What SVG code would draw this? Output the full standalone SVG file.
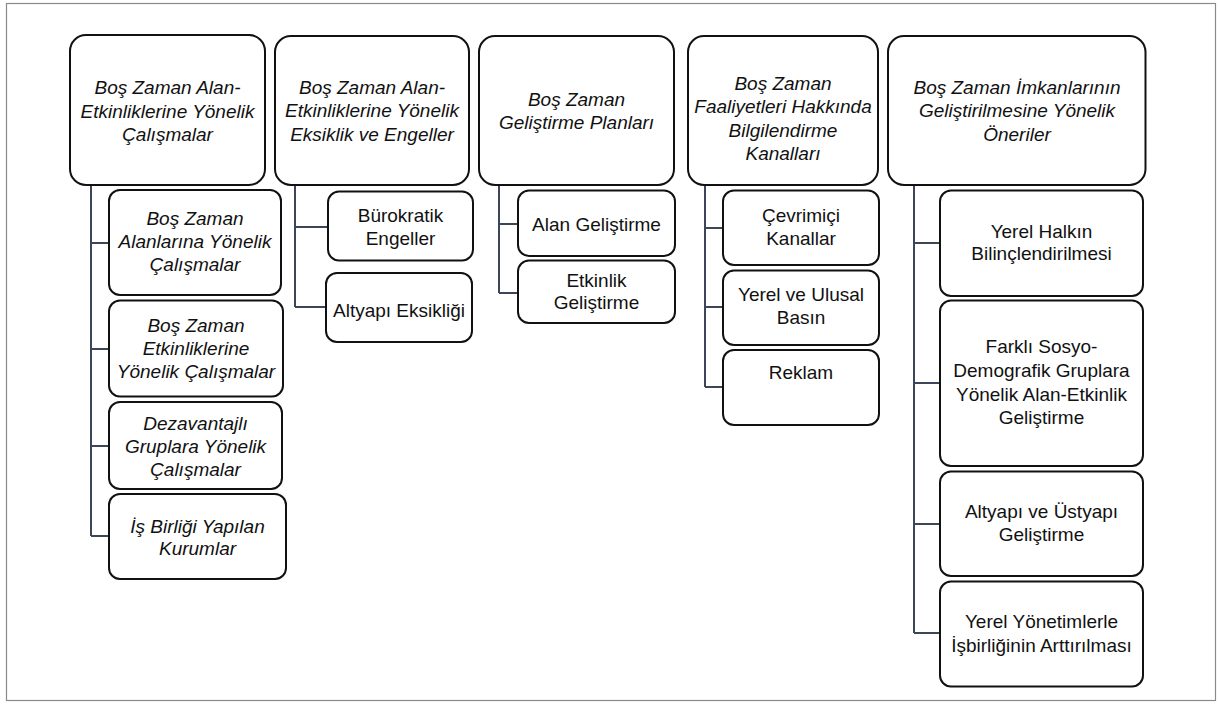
<svg xmlns="http://www.w3.org/2000/svg" width="1218" height="704" viewBox="0 0 1218 704">
<style>
.frame{fill:#fff;stroke:#8a8a8a;stroke-width:1.2}
.hd{fill:#fff;stroke:#111;stroke-width:2}
.ch{fill:#fff;stroke:#111;stroke-width:2}
.conn{fill:none;stroke:#3b4759;stroke-width:2}
text{font-family:"Liberation Sans",Arial,sans-serif;font-size:19px;fill:#111;text-anchor:middle}
.it{font-style:italic}
</style>
<rect class="frame" x="6.5" y="3.5" width="1209" height="697"/>
<g id="connectors">
<path class="conn" d="M91,185 V536 M91,243 H109 M91,349 H109 M91,446 H109 M91,536 H109"/>
<path class="conn" d="M295,185 V307 M295,227 H328 M295,307 H326"/>
<path class="conn" d="M499,185 V293 M499,224 H518 M499,293 H518"/>
<path class="conn" d="M705,185 V387 M705,228 H723 M705,307 H723 M705,387 H723"/>
<path class="conn" d="M914,185 V633 M914,243 H940 M914,383 H940 M914,524 H940 M914,633 H940"/>
</g>
<g id="h1"><rect class="hd" x="70" y="35" width="195" height="150" rx="16"/>
<text class="it" x="167.5" y="94">Boş Zaman Alan-</text><text class="it" x="167.5" y="117.5">Etkinliklerine Yönelik</text><text class="it" x="167.5" y="141">Çalışmalar</text></g>
<g id="c1a"><rect class="ch" x="109" y="190" width="172" height="105" rx="11"/>
<text class="it" x="195" y="225">Boş Zaman</text><text class="it" x="195" y="248.3">Alanlarına Yönelik</text><text class="it" x="195" y="271">Çalışmalar</text></g>
<g id="c1b"><rect class="ch" x="109" y="300.5" width="174" height="96" rx="11"/>
<text class="it" x="196" y="331.7">Boş Zaman</text><text class="it" x="196" y="355">Etkinliklerine</text><text class="it" x="196" y="378.3">Yönelik Çalışmalar</text></g>
<g id="c1c"><rect class="ch" x="109" y="402" width="173" height="87" rx="11"/>
<text class="it" x="195.5" y="430">Dezavantajlı</text><text class="it" x="195.5" y="452.7">Gruplara Yönelik</text><text class="it" x="195.5" y="476">Çalışmalar</text></g>
<g id="c1d"><rect class="ch" x="109" y="494" width="177" height="85" rx="11"/>
<text class="it" x="197.5" y="532.7">İş Birliği Yapılan</text><text class="it" x="197.5" y="555">Kurumlar</text></g>
<g id="h2"><rect class="hd" x="275" y="36" width="194" height="149" rx="16"/>
<text class="it" x="372" y="94">Boş Zaman Alan-</text><text class="it" x="372" y="117.3">Etkinliklerine Yönelik</text><text class="it" x="372" y="140.7">Eksiklik ve Engeller</text></g>
<g id="c2a"><rect class="ch" x="328" y="191.5" width="145" height="69" rx="11"/>
<text x="400.5" y="221.7">Bürokratik</text><text x="400.5" y="245">Engeller</text></g>
<g id="c2b"><rect class="ch" x="326" y="273" width="146" height="69" rx="11"/>
<text x="399" y="316.5">Altyapı Eksikliği</text></g>
<g id="h3"><rect class="hd" x="479" y="36" width="195" height="149" rx="16"/>
<text class="it" x="576.5" y="106">Boş Zaman</text><text class="it" x="576.5" y="129.3">Geliştirme Planları</text></g>
<g id="c3a"><rect class="ch" x="518" y="190.5" width="157" height="65.5" rx="11"/>
<text x="596.5" y="230.7">Alan Geliştirme</text></g>
<g id="c3b"><rect class="ch" x="518" y="260.5" width="157" height="62.5" rx="11"/>
<text x="596.5" y="286.7">Etkinlik</text><text x="596.5" y="309.3">Geliştirme</text></g>
<g id="h4"><rect class="hd" x="688" y="36" width="190" height="149" rx="16"/>
<text class="it" x="783" y="90">Boş Zaman</text><text class="it" x="783" y="113.3">Faaliyetleri Hakkında</text><text class="it" x="783" y="136.7">Bilgilendirme</text><text class="it" x="783" y="160">Kanalları</text></g>
<g id="c4a"><rect class="ch" x="723" y="190.5" width="156" height="74.5" rx="11"/>
<text x="801" y="221.7">Çevrimiçi</text><text x="801" y="245">Kanallar</text></g>
<g id="c4b"><rect class="ch" x="723" y="270.5" width="156" height="74.5" rx="11"/>
<text x="801" y="300.7">Yerel ve Ulusal</text><text x="801" y="324">Basın</text></g>
<g id="c4c"><rect class="ch" x="723" y="350" width="156" height="75" rx="11"/>
<text x="801" y="379.3">Reklam</text></g>
<g id="h5"><rect class="hd" x="888" y="36" width="257.5" height="149" rx="16"/>
<text class="it" x="1017" y="94">Boş Zaman İmkanlarının</text><text class="it" x="1017" y="117.3">Geliştirilmesine Yönelik</text><text class="it" x="1017" y="140.7">Öneriler</text></g>
<g id="c5a"><rect class="ch" x="940" y="190.5" width="203" height="105.5" rx="11"/>
<text x="1041.5" y="238.3">Yerel Halkın</text><text x="1041.5" y="260">Bilinçlendirilmesi</text></g>
<g id="c5b"><rect class="ch" x="940" y="300.5" width="203" height="165.5" rx="11"/>
<text x="1041.5" y="353.3">Farklı Sosyo-</text><text x="1041.5" y="377.3">Demografik Gruplara</text><text x="1041.5" y="401">Yönelik Alan-Etkinlik</text><text x="1041.5" y="424">Geliştirme</text></g>
<g id="c5c"><rect class="ch" x="940" y="471.5" width="203" height="104.5" rx="11"/>
<text x="1041.5" y="518.3">Altyapı ve Üstyapı</text><text x="1041.5" y="540.7">Geliştirme</text></g>
<g id="c5d"><rect class="ch" x="940" y="581.5" width="203" height="105" rx="11"/>
<text x="1041.5" y="628.3">Yerel Yönetimlerle</text><text x="1041.5" y="651.7">İşbirliğinin Arttırılması</text></g>
</svg>
